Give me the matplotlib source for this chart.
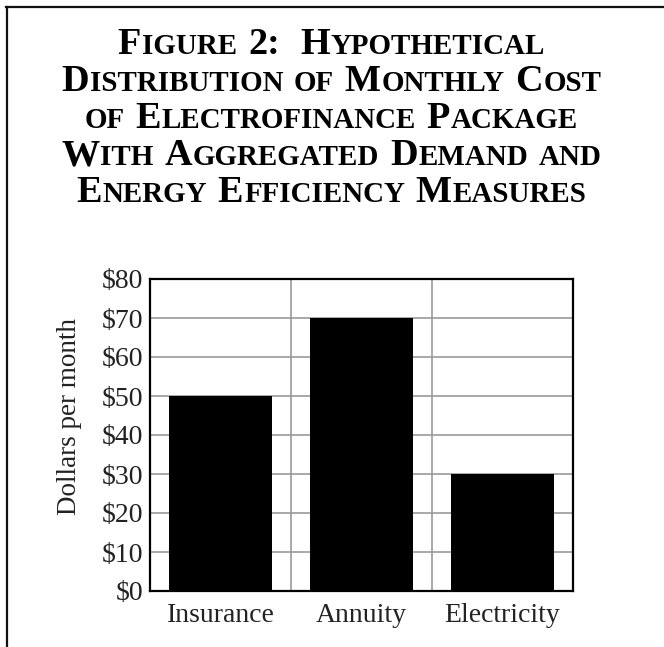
import matplotlib
matplotlib.use('Agg')
import matplotlib.pyplot as plt
from matplotlib.lines import Line2D

# data
categories = ['Insurance', 'Annuity', 'Electricity']
costs = [50, 70, 30]
ytick_values = [0, 10, 20, 30, 40, 50, 60, 70, 80]
ytick_labels = ['\\$0', '\\$10', '\\$20', '\\$30', '\\$40', '\\$50', '\\$60', '\\$70', '\\$80']
title_lines = ['Figure 2:  Hypothetical',
               'Distribution of Monthly Cost',
               'of Electrofinance Package',
               'With Aggregated Demand and',
               'Energy Efficiency Measures']

W, H = 664, 647
SERIF = 'Liberation Serif'
TXT = '#222222'
GRID = '#999999'

fig = plt.figure(figsize=(W / 100, H / 100), dpi=100)
fig.patch.set_facecolor('white')

ax = fig.add_axes([150 / W, 1 - 591 / H, 423 / W, 312 / H])
x = list(range(len(categories)))
ax.bar(x, costs, width=0.73, color='black', zorder=3)
ax.set_xlim(-0.5, 2.5)
ax.set_ylim(0, 80)
ax.set_yticks(ytick_values)
ax.set_yticklabels(ytick_labels)
ax.set_xticks(x)
ax.set_xticklabels(categories)
ax.set_xticks([0.5, 1.5], minor=True)
ax.grid(True, axis='y', which='major', color=GRID, lw=1.2, zorder=1)
ax.grid(True, axis='x', which='minor', color=GRID, lw=1.2, zorder=1)
ax.grid(False, axis='x', which='major')
ax.tick_params(axis='both', which='both', length=0, labelsize=20, labelcolor=TXT)
ax.tick_params(axis='y', pad=5)
ax.tick_params(axis='x', pad=9)
for lab in ax.get_xticklabels() + ax.get_yticklabels():
    lab.set_fontfamily(SERIF)
for sp in ax.spines.values():
    sp.set_linewidth(1.6)
    sp.set_color('black')
    sp.set_zorder(4)

ax.set_ylabel('Dollars per month', fontsize=19.5, fontfamily=SERIF, color=TXT)
ax.yaxis.set_label_coords(-0.16, 0.558)

# border lines (top and left only)
fig.add_artist(Line2D([6 / W, 1], [1 - 7 / H, 1 - 7 / H], color='#111111', lw=1.6))
fig.add_artist(Line2D([7 / W, 7 / W], [0, 1 - 7 / H], color='#111111', lw=1.6))

# small caps title, built run by run
BIG = 27.5
SMALL = BIG * 0.76
renderer = fig.canvas.get_renderer()


def text_width(s, size):
    t = fig.text(0, 0, s, fontsize=size, fontfamily=SERIF, fontweight='bold')
    w = t.get_window_extent(renderer).width
    t.remove()
    return w


def runs_of(word):
    out = []
    for ch in word:
        big = not ch.islower()
        if out and out[-1][1] == big:
            out[-1][0] += ch.upper()
        else:
            out.append([ch.upper(), big])
    return out


space_w = text_width('H H', BIG) - text_width('HH', BIG)
baselines = [54, 91, 128, 165, 202]

for line, base in zip(title_lines, baselines):
    words = line.split(' ')
    pieces = []
    total = 0
    for i, word in enumerate(words):
        if i > 0:
            total += space_w
        for txt, big in runs_of(word):
            size = BIG if big else SMALL
            w = text_width(txt, size)
            pieces.append((total, txt, size))
            total += w + 1
    x0 = 332 - total / 2
    for off, txt, size in pieces:
        fig.text((x0 + off) / W, 1 - base / H, txt, fontsize=size, fontfamily=SERIF,
                 fontweight='bold', color='black', ha='left', va='baseline')

fig.savefig('out.png', dpi=100, facecolor='white')
